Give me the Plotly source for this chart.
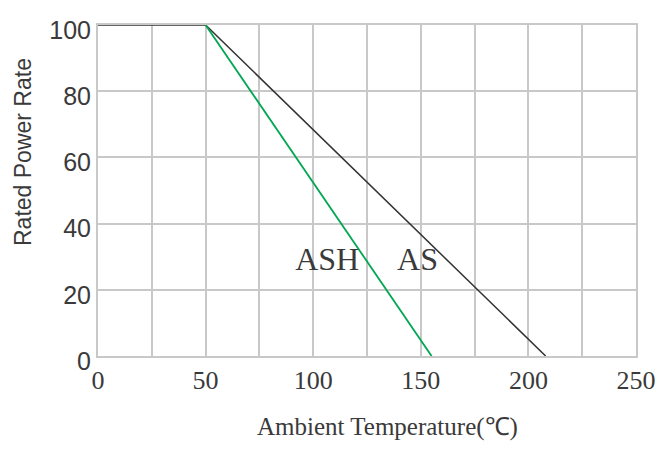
import plotly.graph_objects as go

# Data
temp_as = [0, 50, 208]
power_as = [100, 100, 0]
temp_ash = [50, 155]
power_ash = [100, 0]
x_ticks = [0, 50, 100, 150, 200, 250]
y_ticks = [0, 20, 40, 60, 80, 100]
labels = ["ASH", "AS"]
label_x = [106.5, 148.5]
label_y = [28.5, 28.5]

grid = "#c8c8c8"
txt = "#3a3a3a"

fig = go.Figure()
fig.add_trace(go.Scatter(x=temp_as, y=power_as, mode="lines",
                         line=dict(color="#333333", width=1.5), showlegend=False))
fig.add_trace(go.Scatter(x=temp_ash, y=power_ash, mode="lines",
                         line=dict(color="#00a651", width=1.8), showlegend=False))
fig.add_trace(go.Scatter(x=label_x, y=label_y, mode="text", text=labels,
                         textfont=dict(family="Liberation Serif", size=32, color=txt),
                         showlegend=False))

fig.update_layout(
    width=668, height=450,
    margin=dict(l=98, r=32, t=25, b=94),
    paper_bgcolor="white", plot_bgcolor="white",
    xaxis=dict(range=[0, 250], tickvals=x_ticks, showgrid=True, gridcolor=grid, gridwidth=2,
               minor=dict(dtick=25, showgrid=True, gridcolor=grid, gridwidth=2),
               zeroline=False, showline=True, linecolor=grid, linewidth=2, mirror=True,
               ticks="", ticklabelstandoff=0,
               tickfont=dict(family="Liberation Serif", size=26, color=txt)),
    yaxis=dict(range=[0, 100], tickvals=y_ticks, showgrid=True, gridcolor=grid, gridwidth=2,
               zeroline=False, showline=True, linecolor=grid, linewidth=2, mirror=True,
               ticks="", ticklabelshift=5,
               tickfont=dict(family="Liberation Sans", size=25, color=txt)),
    annotations=[
        dict(text="Ambient Temperature(℃)", xref="paper", yref="paper",
             x=(387 - 98) / 538, y=-(427 - 356) / 331, xanchor="center", yanchor="middle",
             showarrow=False, font=dict(family="Liberation Serif", size=25, color=txt)),
        dict(text="Rated Power Rate", xref="paper", yref="paper", textangle=-90,
             x=(23 - 98) / 538, y=(356 - 152) / 331, xanchor="center", yanchor="middle",
             showarrow=False, font=dict(family="Liberation Sans", size=23, color=txt)),
    ],
)

fig.write_html("out.html")
